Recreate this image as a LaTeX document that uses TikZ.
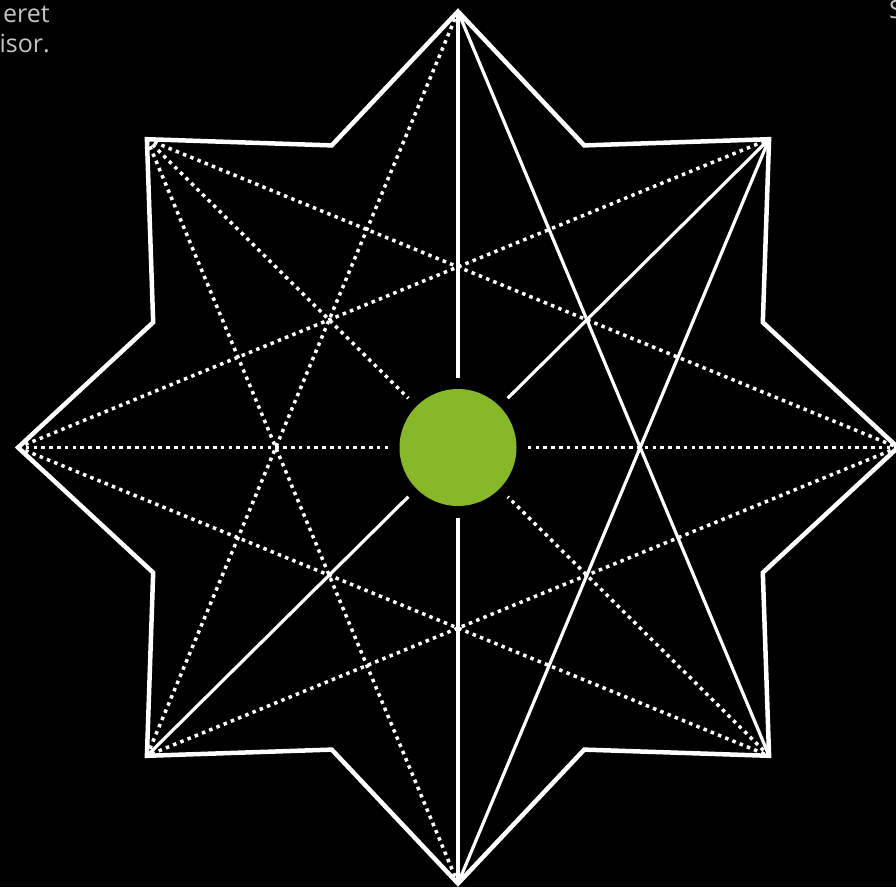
\documentclass[tikz,border=0pt]{standalone}
\usepackage{fontspec}
\setmainfont{Open Sans}
\usepackage{tikz}
\usetikzlibrary{calc}
\definecolor{leaf}{HTML}{86B82A}
\definecolor{ink}{HTML}{000000}
\definecolor{chalk}{HTML}{FFFFFF}
\definecolor{ash}{HTML}{C4C4C4}
\tikzset{
  starline/.style={draw=chalk, line width=4.5pt, line join=miter},
  solidline/.style={draw=chalk, line width=3.2pt},
  dotline/.style={draw=chalk, line width=3.5pt, dash pattern=on 3.5pt off 4.3pt},
  hub/.style={circle, fill=leaf, minimum size=117pt, inner sep=0pt, outer sep=11.5pt},
  note/.style={font=\fontsize{25}{30}\selectfont, text=ash, inner sep=0pt},
}

\begin{document}
\begin{tikzpicture}[x=1pt, y=1pt]
% Page
\useasboundingbox (-458,-439.5) rectangle (438,447.5);
\clip (-458,-439.5) rectangle (438,447.5);
\fill[ink] (-458,-439.5) rectangle (438,447.5);

% Star points
\begin{scope}[xscale=1.009]
\coordinate (tip-n) at (90:436);
\coordinate (tip-ne) at (45:436);
\coordinate (tip-e) at (0:436);
\coordinate (tip-se) at (-45:436);
\coordinate (tip-s) at (-90:436);
\coordinate (tip-sw) at (-135:436);
\coordinate (tip-w) at (180:436);
\coordinate (tip-nw) at (135:436);
\coordinate (notch-nne) at (67.5:327);
\coordinate (notch-ene) at (22.5:327);
\coordinate (notch-ese) at (-22.5:327);
\coordinate (notch-sse) at (-67.5:327);
\coordinate (notch-ssw) at (-112.5:327);
\coordinate (notch-wsw) at (-157.5:327);
\coordinate (notch-wnw) at (157.5:327);
\coordinate (notch-nnw) at (112.5:327);
\end{scope}

% Hub
\node[hub] (hub) at (0,0) {};

% Dotted chords
\draw[dotline] (tip-n) -- (tip-sw);
\draw[dotline] (tip-nw) -- (tip-s);
\draw[dotline] (tip-nw) -- (tip-e);
\draw[dotline] (tip-w) -- (tip-ne);
\draw[dotline] (tip-w) -- (tip-se);
\draw[dotline] (tip-e) -- (tip-sw);
\draw[dotline] (tip-w) -- (hub);
\draw[dotline] (tip-e) -- (hub);
\draw[dotline] (tip-nw) -- (hub);
\draw[dotline] (tip-se) -- (hub);

% Solid chords
\draw[solidline] (tip-n) -- (hub);
\draw[solidline] (tip-s) -- (hub);
\draw[solidline] (tip-ne) -- (hub);
\draw[solidline] (tip-sw) -- (hub);
\draw[solidline] (tip-n) -- (tip-se);
\draw[solidline] (tip-ne) -- (tip-s);

% Outline
\draw[starline] (tip-n) -- (notch-nne) -- (tip-ne) -- (notch-ene) -- (tip-e) -- (notch-ese) -- (tip-se) -- (notch-sse) -- (tip-s) -- (notch-ssw) -- (tip-sw) -- (notch-wsw) -- (tip-w) -- (notch-wnw) -- (tip-nw) -- (notch-nnw) -- cycle;

% Cut-off text
\node[note, anchor=base east] (note-a) at (-408,425) {eret};
\node[note, anchor=base east] (note-b) at (-408,394.5) {isor.};
\node[note, anchor=base west] (note-c) at (431,428.5) {S};
\end{tikzpicture}
\end{document}
